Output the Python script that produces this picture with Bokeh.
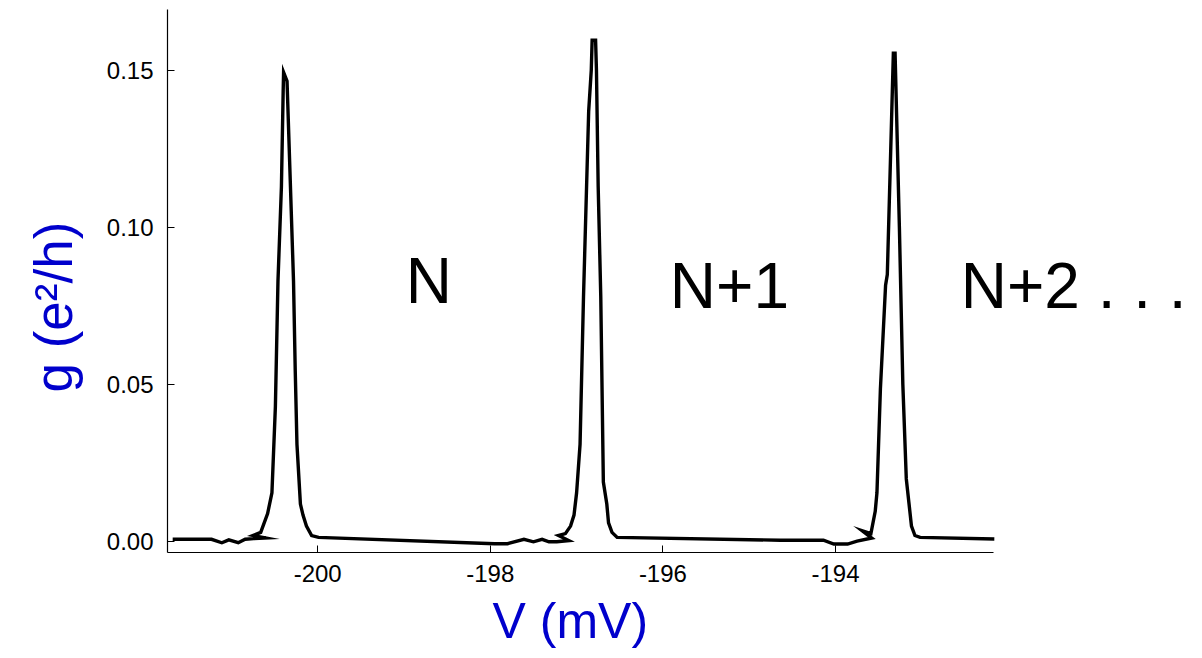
from bokeh.plotting import figure
from bokeh.models import Range1d, FixedTicker, NumeralTickFormatter, Label, Title, ColumnDataSource
from bokeh.embed import file_html
from bokeh.resources import INLINE

# ---- data ----
voltage_mV = [
    -201.68, -201.45, -201.23, -201.11, -201.03, -200.92, -200.84, -200.74, -200.60,
    -200.75, -200.66, -200.58, -200.53, -200.49, -200.46, -200.42, -200.40, -200.395,
    -200.355, -200.28, -200.26, -200.24, -200.20, -200.17, -200.13, -200.07, -199.99,
    -197.95, -197.80, -197.61, -197.50, -197.40, -197.32, -197.23, -197.09,
    -197.21, -197.13, -197.07, -197.03, -197.00, -196.96, -196.92, -196.86, -196.83,
    -196.82, -196.78, -196.77, -196.75, -196.72, -196.69, -196.65, -196.63, -196.59,
    -196.53, -194.64, -194.14, -194.02, -193.86, -193.75, -193.58,
    -193.69, -193.59, -193.54, -193.52, -193.48, -193.42, -193.40, -193.36, -193.33,
    -193.31, -193.26, -193.22, -193.18, -193.15, -193.12, -193.08, -193.02, -192.16,
]
conductance = [
    0.0008, 0.0008, 0.0008, -0.0003, 0.0006, -0.0003, 0.0008, 0.0010, 0.0012,
    0.0020, 0.0030, 0.0090, 0.0156, 0.0430, 0.0830, 0.1130, 0.1430, 0.1493,
    0.1465, 0.0830, 0.0545, 0.0310, 0.0120, 0.0085, 0.0050, 0.0020, 0.0014,
    -0.0006, -0.0006, 0.0008, 0.0000, 0.0008, 0.0000, 0.0000, 0.0004,
    0.0020, 0.0026, 0.0050, 0.0085, 0.0156, 0.0310, 0.0780, 0.1370, 0.1500,
    0.1595, 0.1595, 0.1500, 0.1130, 0.0780, 0.0190, 0.0120, 0.0060, 0.0030,
    0.0014, 0.0005, 0.0005, -0.0007, -0.0007, 0.0002, 0.0012,
    0.0035, 0.0026, 0.0097, 0.0156, 0.0486, 0.0816, 0.0850, 0.1250, 0.1554,
    0.1554, 0.1000, 0.0500, 0.0200, 0.0125, 0.0050, 0.0020, 0.0014, 0.0009,
]
x_ticks = [-200, -198, -196, -194]
y_ticks = [0.00, 0.05, 0.10, 0.15]
x_axis_extent = (-201.74, -192.17)
x_title = "V (mV)"
y_title = "g (e²/h)"
charge_labels = ["N", "N+1", "N+2 . . ."]
charge_label_x = [-198.98, -195.92, -192.55]
charge_label_y = [0.0828, 0.0813, 0.0813]

FONT = "Liberation Sans"
BLUE = "#0000cc"

p = figure(width=1202, height=658, output_backend="svg", toolbar_location=None,
           x_range=Range1d(-201.74, -189.806), y_range=Range1d(-0.0034, 0.1693),
           min_border_left=167, min_border_right=5, min_border_top=9,
           min_border_bottom=106)
p.outline_line_color = None
p.xgrid.visible = False
p.ygrid.visible = False
p.background_fill_color = "white"
p.border_fill_color = "white"

src = ColumnDataSource(data=dict(v=voltage_mV, g=conductance))
p.line("v", "g", source=src, line_color="black", line_width=3.4, line_join="miter")

for ax in (p.xaxis[0], p.yaxis[0]):
    ax.axis_line_color = "black"
    ax.axis_line_width = 1.2
    ax.major_tick_in = 7
    ax.major_tick_out = 0
    ax.minor_tick_in = 0
    ax.minor_tick_out = 0
    ax.major_tick_line_color = "black"
    ax.major_tick_line_width = 1
    ax.major_label_text_font = FONT
    ax.major_label_text_font_size = "24px"
    ax.major_label_text_color = "black"

p.xaxis.bounds = x_axis_extent
p.xaxis.ticker = FixedTicker(ticks=x_ticks)
p.yaxis.ticker = FixedTicker(ticks=y_ticks)
p.xaxis.formatter = NumeralTickFormatter(format="0")
p.yaxis.formatter = NumeralTickFormatter(format="0.00")
p.xaxis.major_label_standoff = 12
p.yaxis.major_label_standoff = 14

# axis titles placed precisely with side-panel titles
p.add_layout(Title(text=x_title, align="left", offset=325, standoff=12,
                   text_line_height=0.9,
                   text_font=FONT, text_font_size="50px", text_font_style="normal",
                   text_color=BLUE), "below")
p.add_layout(Title(text=y_title, align="left", offset=160, standoff=42,
                   text_font=FONT, text_font_size="53px", text_font_style="normal",
                   text_color=BLUE), "left")

for txt, lx, ly in zip(charge_labels, charge_label_x, charge_label_y):
    p.add_layout(Label(x=lx, y=ly, text=txt, text_font=FONT, text_font_size="64px",
                       text_color="black", text_align="left", text_baseline="alphabetic"))

open("out.html", "w").write(file_html(p, INLINE))
